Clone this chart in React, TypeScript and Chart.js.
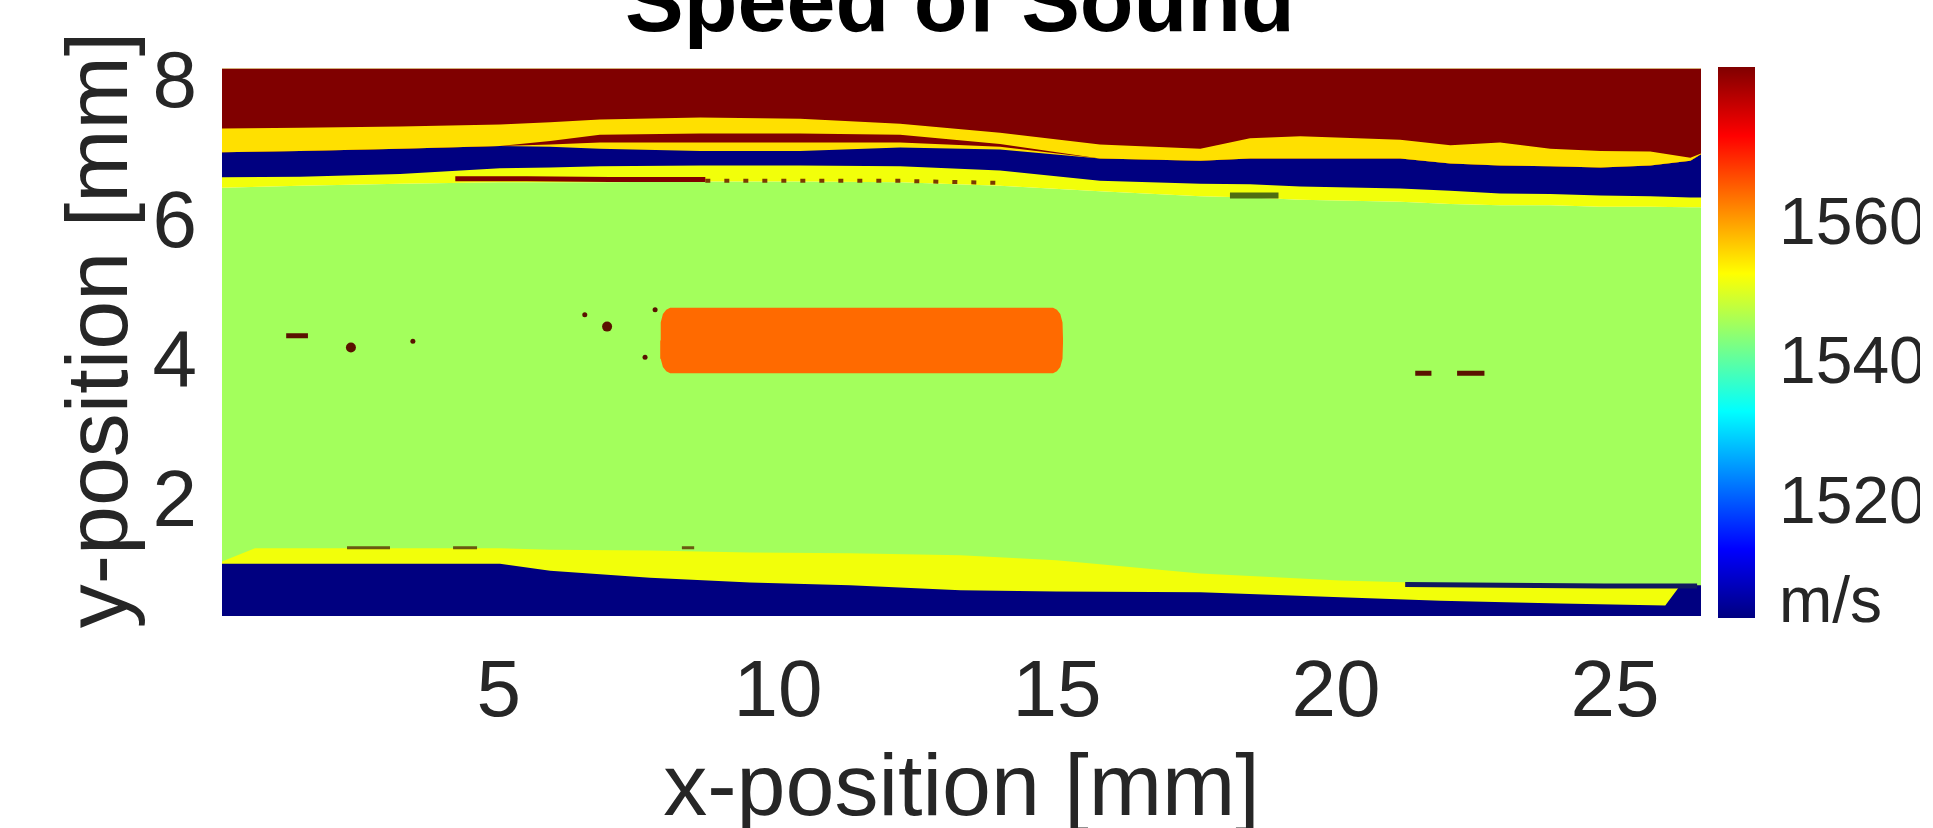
import React, { useEffect, useRef } from 'react';
import { Chart, registerables } from 'chart.js';

Chart.register(...registerables);

const FONT = '"Liberation Sans", Arial, Helvetica, sans-serif';

// ---- texts & ticks ----
const titleText = 'Speed of Sound';
const xLabel = 'x-position [mm]';
const yLabel = ' y-position [mm]';
const xTicks = [5, 10, 15, 20, 25];
const yTicks = [2, 4, 6, 8];
const cbTicks = [1520, 1540, 1560];
const cbUnit = 'm/s';
const cbUnitAt = 1505.7;

// ---- axis ranges ----
const xMin = 0.04;
const xMax = 26.54;
const yMin = 0.39;
const yMax = 8.24;
const cbMin = 1504.0;
const cbMax = 1582.6;

// ---- upper tissue layer boundaries (mm) ----
const upperX = [0, 1.44, 3.23, 5.02, 5.92, 6.81, 8.61, 10.4, 12.19, 13.98, 15.77, 17.57, 18.46, 19.36, 21.15, 22.05, 22.94, 23.84, 24.74, 25.63, 26.35, 26.6];
const edgeRedTop = [7.38, 7.39, 7.41, 7.44, 7.47, 7.51, 7.54, 7.52, 7.45, 7.32, 7.15, 7.09, 7.24, 7.27, 7.22, 7.14, 7.18, 7.09, 7.06, 7.05, 6.96, 7.04];
const edgeStripTop = [7.04, 7.06, 7.09, 7.13, 7.2, 7.29, 7.31, 7.31, 7.29, 7.16, 6.95, 6.92, 6.95, 6.95, 6.95, 6.88, 6.85, 6.84, 6.82, 6.85, 6.92, 7.04];
const edgeStripBottom = [7.04, 7.06, 7.09, 7.13, 7.15, 7.18, 7.18, 7.18, 7.18, 7.12, 6.95, 6.92, 6.95, 6.95, 6.95, 6.88, 6.85, 6.84, 6.82, 6.85, 6.92, 7.04];
const edgeBlueTop = [7.04, 7.06, 7.09, 7.13, 7.12, 7.09, 7.06, 7.06, 7.11, 7.08, 6.95, 6.92, 6.95, 6.95, 6.95, 6.88, 6.85, 6.84, 6.82, 6.85, 6.92, 7.04];
const edgeBlueBottom = [6.68, 6.69, 6.73, 6.81, 6.82, 6.84, 6.85, 6.85, 6.84, 6.78, 6.63, 6.59, 6.58, 6.55, 6.52, 6.49, 6.45, 6.44, 6.42, 6.41, 6.39, 6.39];
const edgeGreenTop = [6.53, 6.56, 6.59, 6.61, 6.61, 6.61, 6.62, 6.62, 6.61, 6.56, 6.48, 6.41, 6.39, 6.36, 6.33, 6.30, 6.28, 6.28, 6.26, 6.26, 6.25, 6.25];

// ---- lower tissue layer boundaries (mm) ----
const lowerX = [0, 0.63, 3.23, 5.02, 5.92, 7.71, 9.5, 11.29, 13.27, 14.99, 17.57, 20.08, 21.87, 24.02, 25.9, 26.17, 26.6];
const edgeGreenBottom = [1.16, 1.36, 1.36, 1.36, 1.34, 1.33, 1.30, 1.29, 1.26, 1.19, 1.00, 0.90, 0.86, 0.83, 0.83, 0.83, 0.83];
const edgeLowerBlueTop = [1.14, 1.14, 1.14, 1.14, 1.04, 0.94, 0.87, 0.83, 0.76, 0.74, 0.73, 0.66, 0.61, 0.57, 0.54, 0.83, 0.83];

// ---- inclusion (mm) ----
const inclusionX = [7.89, 7.9, 7.94, 8.0, 8.07, 14.93, 15.0, 15.06, 15.1, 15.11];
const inclusionTop = [4.34, 4.6, 4.72, 4.78, 4.81, 4.81, 4.78, 4.72, 4.6, 4.34];
const inclusionBottom = [4.34, 4.08, 3.96, 3.9, 3.87, 3.87, 3.9, 3.96, 4.08, 4.34];

// ---- small artefacts (mm) ----
const bigSpotX = [2.35, 6.94];
const bigSpotY = [4.24, 4.54];
const smallSpotX = [3.46, 6.54, 7.62, 7.8];
const smallSpotY = [4.33, 4.71, 4.10, 4.78];
const darkDashes = [[1.19, 1.58, 4.41], [21.42, 21.71, 3.87], [22.17, 22.66, 3.87]];
const oliveDashes = [[18.1, 18.97, 6.42]];
const lowerDashes = [[2.28, 3.05, 1.37], [4.18, 4.61, 1.37], [8.28, 8.5, 1.37]];
const upperDarkLineX = [4.22, 5.5, 7.0, 8.7];
const upperDarkLineY = [6.66, 6.66, 6.65, 6.65];
const upperDotLineX = [8.7, 10.5, 12.2, 14.0];
const upperDotLineY = [6.63, 6.63, 6.63, 6.6];
const lowerNavyLineX = [21.24, 23.0, 24.8, 26.47];
const lowerNavyLineY = [0.84, 0.83, 0.82, 0.82];

const COLORS = {
  darkRed: '#800000',
  gold: '#ffe000',
  lemon: '#f2ff0a',
  navy: '#000080',
  green: '#a3ff5c',
  orange: '#ff6a00',
  spot: '#5a1200',
  olive: '#4f6d12',
  text: '#262626',
};

const pts = (xs: number[], ys: number[]) => xs.map((x, i) => ({ x, y: ys[i] }));
const dashPts = (segs: number[][]) =>
  segs.flatMap(([x0, x1, y]) => [
    { x: x0, y },
    { x: x1, y },
    { x: x1 + 0.001, y: null as any },
  ]);

const area = (data: any[], color: string, fill: any) => ({
  type: 'line' as const,
  data,
  backgroundColor: color,
  borderColor: color,
  borderWidth: 0,
  pointRadius: 0,
  fill,
  tension: 0,
});

const stroke = (data: any[], color: string, width: number, dash: number[] = []) => ({
  type: 'line' as const,
  data,
  borderColor: color,
  backgroundColor: color,
  borderWidth: width,
  borderDash: dash,
  pointRadius: 0,
  fill: false,
  spanGaps: false,
  tension: 0,
});

const spots = (data: any[], color: string, r: number) => ({
  type: 'line' as const,
  data,
  showLine: false,
  pointRadius: r,
  pointBackgroundColor: color,
  pointBorderWidth: 0,
  fill: false,
});

const jetStops: [number, string][] = [
  [0, 'rgb(0,0,128)'],
  [0.125, 'rgb(0,0,255)'],
  [0.375, 'rgb(0,255,255)'],
  [0.625, 'rgb(255,255,0)'],
  [0.875, 'rgb(255,0,0)'],
  [1, 'rgb(128,0,0)'],
];

export default function App() {
  const mainRef = useRef<HTMLCanvasElement>(null);
  const barRef = useRef<HTMLCanvasElement>(null);

  useEffect(() => {
    document.body.style.margin = '0';
    document.body.style.overflow = 'hidden';

    const datasets: any[] = [
      area(pts(inclusionX, inclusionTop), COLORS.orange, 1),
      area(pts(inclusionX, inclusionBottom), COLORS.orange, false),
      spots(pts(bigSpotX, bigSpotY), COLORS.spot, 5),
      spots(pts(smallSpotX, smallSpotY), COLORS.spot, 2.5),
      stroke(dashPts(darkDashes), COLORS.spot, 5),
      stroke(dashPts(oliveDashes), COLORS.olive, 6),
      stroke(dashPts(lowerDashes), '#6a5a10', 3),
      stroke(pts(upperDarkLineX, upperDarkLineY), COLORS.darkRed, 5),
      stroke(pts(upperDotLineX, upperDotLineY), '#7a3a00', 4, [5, 14]),
      stroke(pts(lowerNavyLineX, lowerNavyLineY), '#101a60', 5),
      area(pts(upperX, edgeRedTop), COLORS.darkRed, 'end'),
      area(pts(upperX, edgeStripTop), COLORS.gold, 'end'),
      area(pts(upperX, edgeStripBottom), COLORS.darkRed, 'end'),
      area(pts(upperX, edgeBlueTop), COLORS.gold, 'end'),
      area(pts(upperX, edgeBlueBottom), COLORS.navy, 'end'),
      area(pts(upperX, edgeGreenTop), COLORS.lemon, 'end'),
      area(pts(lowerX, edgeLowerBlueTop), COLORS.navy, 'start'),
      area(pts(lowerX, edgeGreenBottom), COLORS.lemon, 'start'),
      area(pts(upperX, edgeGreenTop), COLORS.green, 'start'),
    ];

    const main = new Chart(mainRef.current!, {
      type: 'line',
      data: { datasets },
      options: {
        responsive: false,
        animation: false,
        devicePixelRatio: 1,
        layout: { padding: 0, autoPadding: false },
        events: [],
        plugins: {
          legend: { display: false },
          tooltip: { enabled: false },
          title: {
            display: true,
            text: titleText,
            color: '#000000',
            font: { family: FONT, size: 88, weight: 'bold', lineHeight: 1.2 },
            padding: { top: 24, bottom: 9 },
          },
        },
        scales: {
          x: {
            type: 'linear',
            position: 'bottom',
            min: xMin,
            max: xMax,
            afterBuildTicks: (s: any) => {
              s.ticks = xTicks.map((v) => ({ value: v }));
            },
            afterFit: (s: any) => {
              s.height = 212;
            },
            grid: { display: false, drawTicks: false },
            border: { display: false },
            ticks: {
              color: COLORS.text,
              padding: 30,
              maxRotation: 0,
              autoSkip: false,
              font: { family: FONT, size: 80 },
              callback: (v: any) => String(v),
            },
            title: {
              display: true,
              text: xLabel,
              color: COLORS.text,
              font: { family: FONT, size: 88, lineHeight: 0.85 },
              padding: { top: 0, bottom: 0 },
            },
          },
          y: {
            type: 'linear',
            position: 'left',
            min: yMin,
            max: yMax,
            afterBuildTicks: (s: any) => {
              s.ticks = yTicks.map((v) => ({ value: v }));
            },
            afterFit: (s: any) => {
              s.width = 222;
            },
            grid: { display: false, drawTicks: false },
            border: { display: false },
            ticks: {
              color: COLORS.text,
              padding: 25,
              autoSkip: false,
              font: { family: FONT, size: 80 },
              callback: (v: any) => String(v),
            },
            title: {
              display: true,
              text: yLabel,
              color: COLORS.text,
              font: { family: FONT, size: 88, lineHeight: 1.2 },
              padding: { top: 50, bottom: 0 },
            },
          },
          cb: {
            type: 'linear',
            position: 'right',
            min: cbMin,
            max: cbMax,
            afterBuildTicks: (s: any) => {
              s.ticks = [cbUnitAt, ...cbTicks].map((v) => ({ value: v }));
            },
            afterFit: (s: any) => {
              s.width = 219;
            },
            grid: { display: false, drawTicks: false },
            border: { display: false },
            ticks: {
              color: COLORS.text,
              padding: 78,
              autoSkip: false,
              font: (ctx: any) =>
                ctx.tick && ctx.tick.value === cbUnitAt
                  ? { family: FONT, size: 64 }
                  : { family: FONT, size: 66 },
              callback: (v: any) => (v === cbUnitAt ? cbUnit : String(v)),
            },
          },
        },
      } as any,
    });

    const bar = new Chart(barRef.current!, {
      type: 'bar',
      data: {
        labels: ['c'],
        datasets: [
          {
            data: [[cbMin, cbMax]] as any,
            borderWidth: 0,
            barPercentage: 1,
            categoryPercentage: 1,
            backgroundColor: (ctx: any) => {
              const { chart } = ctx;
              const ca = chart.chartArea;
              if (!ca) return '#000080';
              const g = chart.ctx.createLinearGradient(0, ca.bottom, 0, ca.top);
              jetStops.forEach(([t, c]) => g.addColorStop(t, c));
              return g;
            },
          },
        ],
      },
      options: {
        responsive: false,
        animation: false,
        devicePixelRatio: 1,
        events: [],
        layout: { padding: 0, autoPadding: false },
        plugins: { legend: { display: false }, tooltip: { enabled: false } },
        scales: {
          x: { display: false },
          y: { display: false, min: cbMin, max: cbMax },
        },
      } as any,
    });

    return () => {
      main.destroy();
      bar.destroy();
    };
  }, []);

  return (
    <div
      style={{
        position: 'fixed',
        left: 0,
        top: 0,
        width: 1933,
        height: 828,
        overflow: 'hidden',
        background: '#ffffff',
      }}
    >
      <canvas
        ref={mainRef}
        width={1920}
        height={898}
        style={{ position: 'absolute', left: 0, top: -70, width: 1920, height: 898 }}
      />
      <canvas
        ref={barRef}
        width={37}
        height={551}
        style={{ position: 'absolute', left: 1718, top: 67, width: 37, height: 551 }}
      />
    </div>
  );
}
